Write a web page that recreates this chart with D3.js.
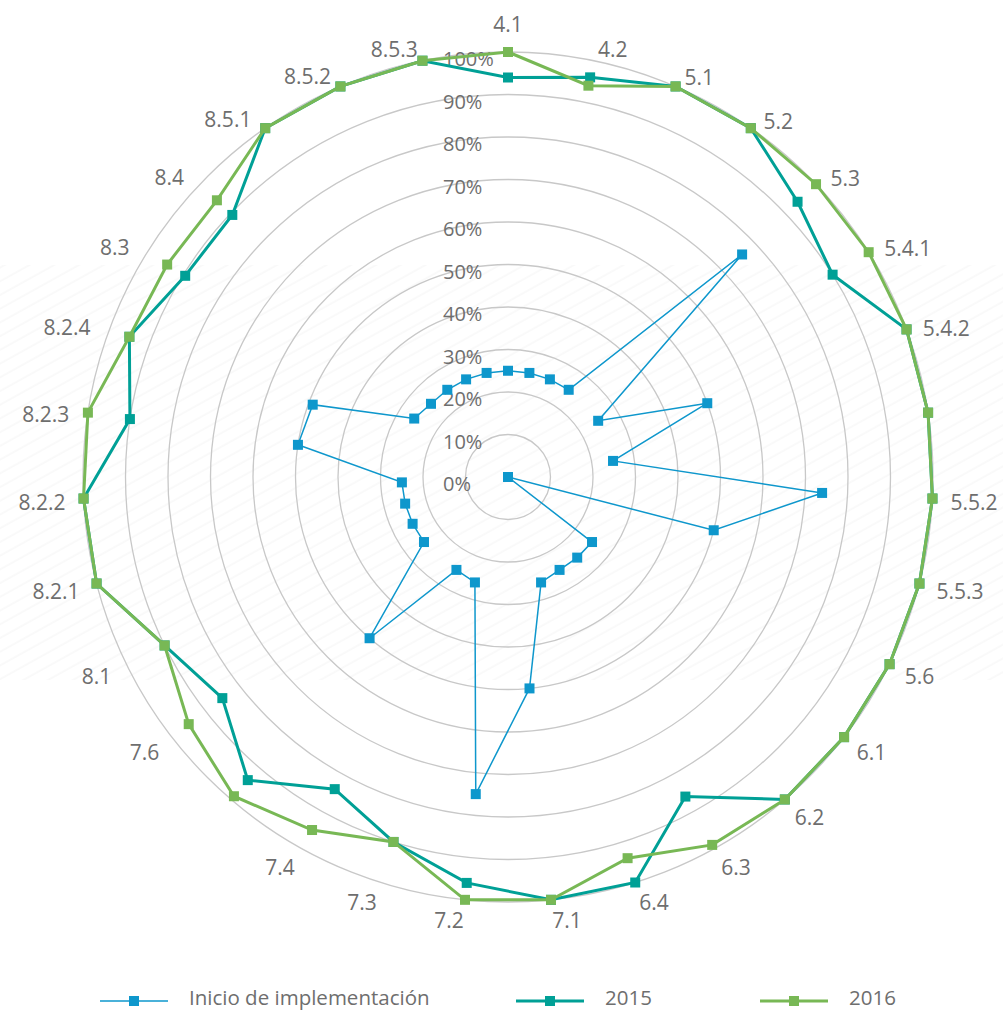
<!DOCTYPE html>
<html>
<head>
<meta charset="utf-8">
<script src="https://cdn.jsdelivr.net/npm/d3@7"></script>
<style>
  html, body { margin: 0; padding: 0; background: #ffffff; }
  svg { display: block; font-family: "Open Sans", "Noto Sans", sans-serif; }
</style>
</head>
<body>
<svg id="chart" width="1003" height="1012"></svg>
<script>
// Clauses around the radar (blank entries are clauses whose label is not printed)
const categories = ["4.1","4.2","5.1","5.2","5.3","5.4.1","5.4.2","","5.5.2","5.5.3","5.6",
  "6.1","6.2","6.3","6.4","7.1","7.2","7.3","7.4","","7.6","8.1","8.2.1","8.2.2","8.2.3",
  "8.2.4","8.3","8.4","8.5.1","8.5.2","8.5.3"];

// Degree of compliance per clause (%)
const inicio = [25,25,25,25,76,25,50,25,74,50,0,25,25,25,26,50,75,26,25,50,25,25,25,25,50,49,26,25,25,25,25];
const y2015  = [94,96,100,100,94,90,100,100,100,100,100,100,100,86,100,100,96,90,84,94,85,90,100,100,90,95,89.5,89.5,100,100,100];
const y2016  = [100,94,100,100,100,100,100,100,100,100,100,100,100,99,94,100,100,90,95,99,95,90,100,100,100,95,94.5,94.5,100,100,100];

const tickValues = [0,10,20,30,40,50,60,70,80,90,100];
const tickLabels = ["0%","10%","20%","30%","40%","50%","60%","70%","80%","90%","100%"];
const seriesNames = ["Inicio de implementación","2015","2016"];
const seriesColors = ["#0e97cc","#00a096","#78b855"];

const svg = d3.select("#chart");
const W = 1003;
const cx = 508, cy = 477, R = 425;
const textColor = "#6e6e6e";

// faint diagonal hatching band in the background
const defs = svg.append("defs");
const pat = defs.append("pattern")
  .attr("id", "hatch")
  .attr("patternUnits", "userSpaceOnUse")
  .attr("width", 12).attr("height", 12)
  .attr("patternTransform", "rotate(-29)");
pat.append("line")
  .attr("x1", 0).attr("y1", 6).attr("x2", 12).attr("y2", 6)
  .attr("stroke", "#f4f4f4").attr("stroke-width", 1);
svg.append("rect")
  .attr("x", 0).attr("y", 265).attr("width", W).attr("height", 415)
  .attr("fill", "url(#hatch)");

const n = categories.length;
const r = d3.scaleLinear().domain([0, 100]).range([0, R]);
const angle = d3.scaleLinear().domain([0, n]).range([0, 2 * Math.PI]);

const g = svg.append("g").attr("transform", `translate(${cx},${cy})`);

// circular gridlines
g.append("g").selectAll("circle")
  .data(tickValues.filter(v => v > 0))
  .join("circle")
  .attr("r", d => r(d))
  .attr("fill", "none")
  .attr("stroke", "#c8c8c8")
  .attr("stroke-width", 1.3);

// value axis labels
g.append("g").selectAll("text")
  .data(tickValues)
  .join("text")
  .attr("x", -65)
  .attr("y", d => -r(d) + 14)
  .attr("fill", textColor)
  .attr("font-size", 20)
  .text((d, i) => tickLabels[i]);

// category labels around the outside: the nearest corner of each label
// sits on a ring just outside the 100% circle
const catG = g.append("g");
const deg = Math.PI / 180;
categories.forEach((label, i) => {
  if (!label) return;
  const a = angle(i);
  const s = Math.sin(a), c = Math.cos(a);
  const centered = Math.abs(s) < 0.02;
  let x, y;
  if (centered) {
    x = 0;
    y = -445;
  } else if (c >= 0) {
    const Rl = 429 + 12 * s * s - 1.5 * s;
    const a2 = a + Math.sign(s) * 1.5 * deg * Math.min(1, Math.abs(s) / 0.6);
    x = Rl * Math.sin(a2);
    y = -Rl * Math.cos(a2);
  } else {
    const Rl = 438 + 5 * s * s;
    x = Rl * s;
    y = -Rl * c - 4.5 * s * s + 15.5;
  }
  catG.append("text")
    .attr("x", x)
    .attr("y", y)
    .attr("text-anchor", centered ? "middle" : (s > 0 ? "start" : "end"))
    .attr("fill", textColor)
    .attr("font-size", 21)
    .text(label);
});

// series
const seriesData = [inicio, y2015, y2016];
const widths = [1.5, 3, 3];
const line = d3.lineRadial()
  .angle((d, i) => angle(i))
  .radius(d => r(d))
  .curve(d3.curveLinearClosed);

const MS = 10;
seriesData.forEach((vals, k) => {
  const sg = g.append("g");
  sg.append("path")
    .datum(vals)
    .attr("d", line)
    .attr("fill", "none")
    .attr("stroke", seriesColors[k])
    .attr("stroke-width", widths[k])
    .attr("stroke-linejoin", "miter");
  sg.selectAll("rect")
    .data(vals)
    .join("rect")
    .attr("x", (d, i) => r(d) * Math.sin(angle(i)) - MS / 2)
    .attr("y", (d, i) => -r(d) * Math.cos(angle(i)) - MS / 2)
    .attr("width", MS).attr("height", MS)
    .attr("fill", seriesColors[k]);
});

// legend
const legendStarts = [100, 516, 760];
const legY = 1001;
const leg = svg.append("g");
seriesNames.forEach((name, k) => {
  const x0 = legendStarts[k];
  leg.append("line")
    .attr("x1", x0).attr("x2", x0 + 68)
    .attr("y1", legY).attr("y2", legY)
    .attr("stroke", seriesColors[k])
    .attr("stroke-width", widths[k]);
  leg.append("rect")
    .attr("x", x0 + 34 - MS / 2).attr("y", legY - MS / 2)
    .attr("width", MS).attr("height", MS)
    .attr("fill", seriesColors[k]);
  leg.append("text")
    .attr("x", x0 + 89).attr("y", legY + 4)
    .attr("fill", textColor)
    .attr("font-size", 20.5)
    .text(name);
});
</script>
</body>
</html>
